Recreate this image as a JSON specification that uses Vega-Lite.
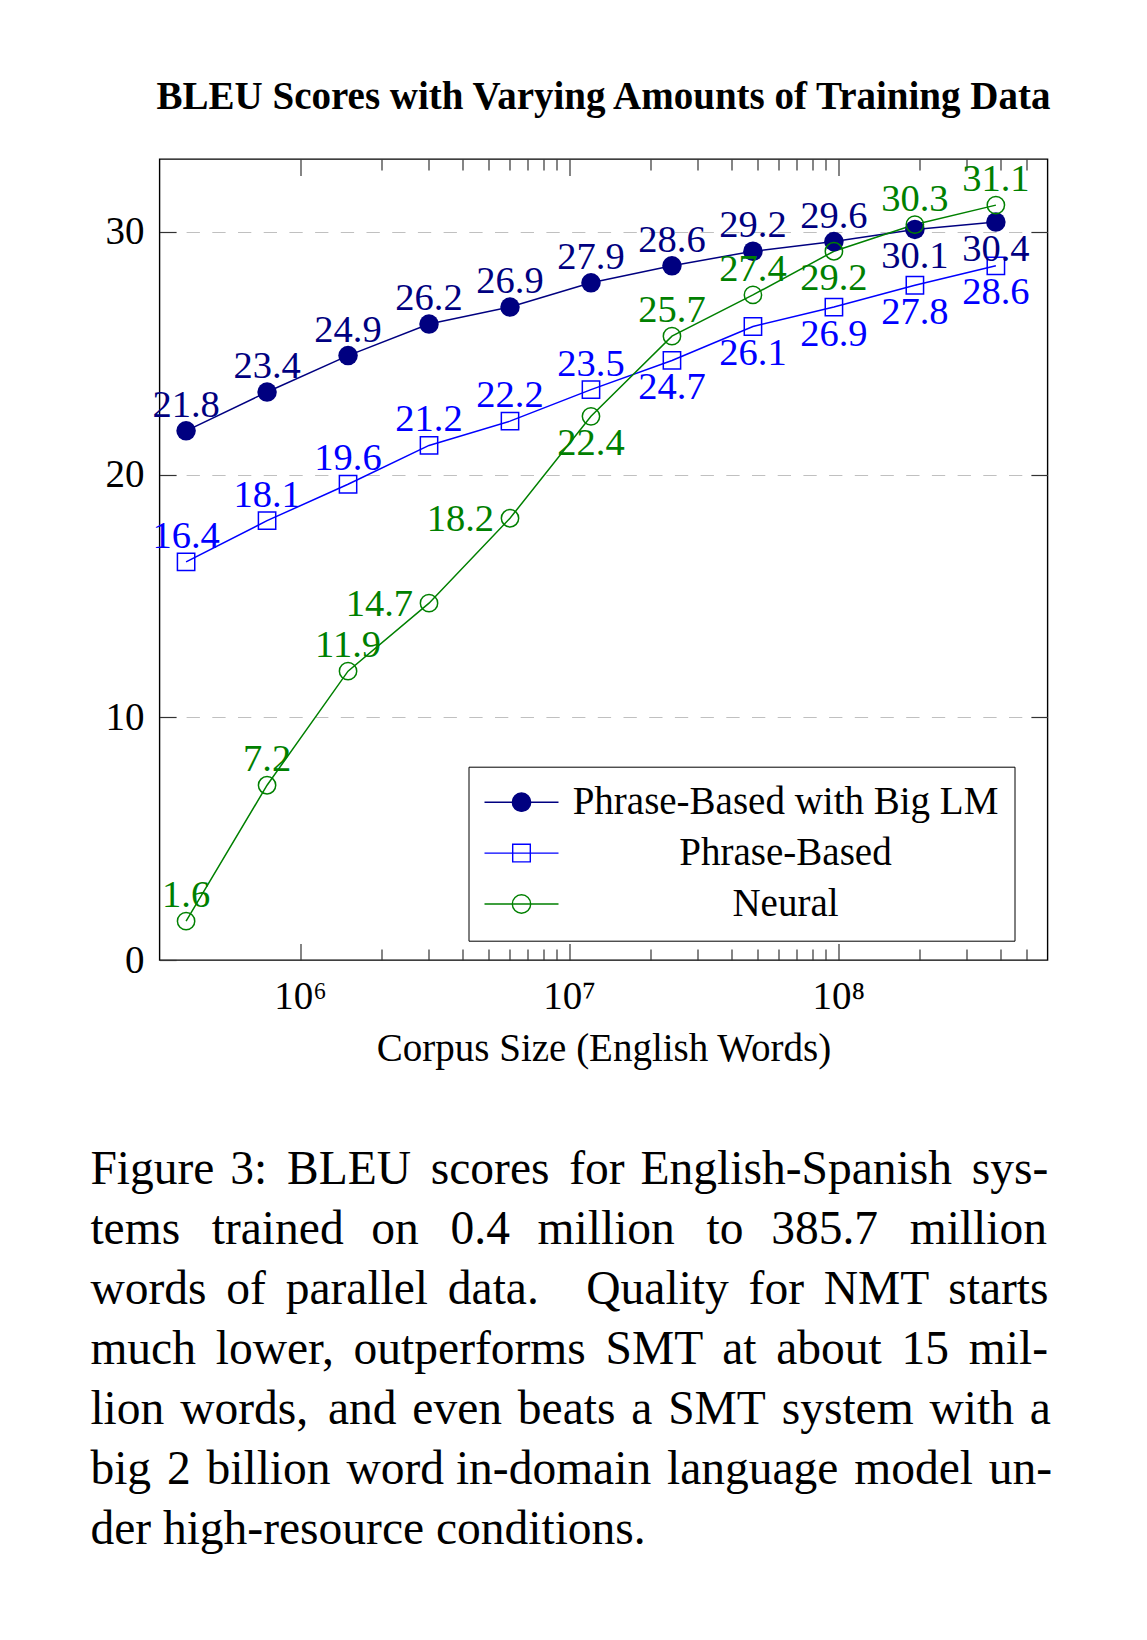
{
  "$schema": "https://vega.github.io/schema/vega-lite/v6.json",
  "background": "white",
  "padding": {"left": 89.5, "top": 77, "right": 5, "bottom": 5},
  "config": {
    "font": "Liberation Serif",
    "view": {"stroke": "black", "strokeWidth": 1.4},
    "axis": {"labelFont": "Liberation Serif", "titleFont": "Liberation Serif", "labelColor": "black", "titleColor": "black", "titleFontWeight": "normal", "tickColor": "#333333", "tickWidth": 1.2},
    "legend": {
      "labelFont": "Liberation Serif", "labelFontSize": 39, "labelColor": "black",
      "labelAlign": "center", "labelBaseline": "middle", "labelOffset": 262, "labelLimit": 800,
      "symbolSize": 1369, "symbolStrokeWidth": 1.4, "symbolOpacity": 1, "rowPadding": 10.9, "padding": 16,
      "strokeColor": "black", "fillColor": "white", "cornerRadius": 0
    },
    "text": {"font": "Liberation Serif"}
  },
  "title": {
    "text": [
      "Figure\u20043:\u0020\u2006BLEU\u0020\u2006scores\u0020\u2006for\u2004English-Spanish\u0020\u2006sys-",
      "tems\u2002\u2006trained\u0020\u2004on\u2002\u20060.4\u0020\u2004million\u2002\u2006to\u0020\u2004385.7\u2002\u2006million",
      "words\u0020\u2006of\u0020\u2006parallel\u0020\u2006data.\u2002\u2002Quality\u0020\u2006for\u0020\u2006NMT\u0020\u2006starts",
      "much\u0020\u2006lower,\u0020\u2006outperforms\u0020\u2006SMT\u0020\u2006at\u0020\u2006about\u0020\u200615\u0020\u2006mil-",
      "lion\u2004words,\u0020\u2006and\u2004even\u2004beats\u2004a\u2004SMT\u2004system\u2004with\u2004a",
      "big\u20042\u2004billion\u2004word in-domain\u2004language\u2004model\u2004un-",
      "der high-resource conditions."
    ],
    "orient": "bottom", "anchor": "start", "frame": "bounds",
    "font": "Liberation Serif", "fontSize": 47.5, "fontWeight": "normal", "color": "black",
    "lineHeight": 60, "baseline": "top", "offset": 77, "dx": -14
  },
  "datasets": {
    "bleu": [
      {"series": "Phrase-Based with Big LM", "words": 376660, "bleu": 21.8},
      {"series": "Phrase-Based with Big LM", "words": 753320, "bleu": 23.4},
      {"series": "Phrase-Based with Big LM", "words": 1506641, "bleu": 24.9},
      {"series": "Phrase-Based with Big LM", "words": 3013281, "bleu": 26.2},
      {"series": "Phrase-Based with Big LM", "words": 6026563, "bleu": 26.9},
      {"series": "Phrase-Based with Big LM", "words": 12053125, "bleu": 27.9},
      {"series": "Phrase-Based with Big LM", "words": 24106250, "bleu": 28.6},
      {"series": "Phrase-Based with Big LM", "words": 48212500, "bleu": 29.2},
      {"series": "Phrase-Based with Big LM", "words": 96425000, "bleu": 29.6},
      {"series": "Phrase-Based with Big LM", "words": 192850000, "bleu": 30.1},
      {"series": "Phrase-Based with Big LM", "words": 385700000, "bleu": 30.4},
      {"series": "Phrase-Based", "words": 376660, "bleu": 16.4},
      {"series": "Phrase-Based", "words": 753320, "bleu": 18.1},
      {"series": "Phrase-Based", "words": 1506641, "bleu": 19.6},
      {"series": "Phrase-Based", "words": 3013281, "bleu": 21.2},
      {"series": "Phrase-Based", "words": 6026563, "bleu": 22.2},
      {"series": "Phrase-Based", "words": 12053125, "bleu": 23.5},
      {"series": "Phrase-Based", "words": 24106250, "bleu": 24.7},
      {"series": "Phrase-Based", "words": 48212500, "bleu": 26.1},
      {"series": "Phrase-Based", "words": 96425000, "bleu": 26.9},
      {"series": "Phrase-Based", "words": 192850000, "bleu": 27.8},
      {"series": "Phrase-Based", "words": 385700000, "bleu": 28.6},
      {"series": "Neural", "words": 376660, "bleu": 1.6},
      {"series": "Neural", "words": 753320, "bleu": 7.2},
      {"series": "Neural", "words": 1506641, "bleu": 11.9},
      {"series": "Neural", "words": 3013281, "bleu": 14.7},
      {"series": "Neural", "words": 6026563, "bleu": 18.2},
      {"series": "Neural", "words": 12053125, "bleu": 22.4},
      {"series": "Neural", "words": 24106250, "bleu": 25.7},
      {"series": "Neural", "words": 48212500, "bleu": 27.4},
      {"series": "Neural", "words": 96425000, "bleu": 29.2},
      {"series": "Neural", "words": 192850000, "bleu": 30.3},
      {"series": "Neural", "words": 385700000, "bleu": 31.1}
    ]
  },
  "vconcat": [
    {
      "width": 888,
      "height": 801,
      "title": {
        "text": "BLEU Scores with Varying Amounts of Training Data",
        "font": "Liberation Serif", "fontSize": 39, "fontWeight": "bold", "color": "black",
        "anchor": "middle", "baseline": "alphabetic", "offset": 10
      },
      "data": {"name": "bleu"},
      "layer": [
        {
          "mark": {"type": "line", "strokeWidth": 1.5},
          "encoding": {
            "x": {"field": "words", "type": "quantitative",
              "scale": {"type": "log", "domain": [300000, 600000000], "nice": false, "zero": false},
              "axis": {"orient": "bottom", "values": [1000000, 10000000, 100000000],
                "labelExpr": "datum.value < 5000000 ? '10⁶' : datum.value < 50000000 ? '10⁷' : '10⁸'",
                "tickSize": -16.6, "domain": false, "grid": false, "labelFontSize": 39, "labelPadding": 34,
                "labelFlush": false, "labelOverlap": false,
                "title": "Corpus Size (English Words)", "titleFontSize": 39, "titlePadding": 13}},
            "y": {"field": "bleu", "type": "quantitative",
              "scale": {"domain": [0, 33], "nice": false, "zero": false},
              "axis": {"orient": "left", "values": [0, 10, 20, 30], "tickSize": -16.6, "domain": false,
                "grid": false, "labelFontSize": 39, "labelPadding": 32, "labelFlush": false, "title": null}},
            "color": {"field": "series", "type": "nominal",
              "scale": {"range": ["#008000", "#0000ff", "#000080"]},
              "legend": null}
          }
        },
        {
          "transform": [{"filter": "datum.series == 'Phrase-Based with Big LM'"}],
          "mark": {"type": "point", "shape": "circle", "filled": true, "size": 380, "color": "#000080", "opacity": 1},
          "encoding": {
            "x": {"field": "words", "type": "quantitative",
              "axis": {"orient": "bottom", "values": [2000000, 3000000, 4000000, 5000000, 6000000, 7000000, 8000000, 9000000, 20000000, 30000000, 40000000, 50000000, 60000000, 70000000, 80000000, 90000000, 200000000, 300000000, 400000000, 500000000],
                "labels": false, "tickSize": -11, "domain": false, "grid": false, "title": null}},
            "y": {"field": "bleu", "type": "quantitative",
              "axis": {"orient": "right", "values": [10, 20, 30], "labels": false, "tickSize": -16.6, "domain": false,
                "grid": true, "gridColor": "#c0c0c0", "gridDash": [13.3, 12.4], "gridWidth": 1.2, "title": null}}
          }
        },
        {
          "transform": [{"filter": "datum.series == 'Phrase-Based'"}],
          "mark": {"type": "point", "shape": "square", "filled": false, "size": 300, "color": "#0000ff", "strokeWidth": 1.5, "opacity": 1},
          "encoding": {
            "x": {"field": "words", "type": "quantitative",
              "axis": {"orient": "top", "values": [1000000, 10000000, 100000000], "labels": false, "tickSize": -16.6, "domain": false, "grid": false, "title": null}},
            "y": {"field": "bleu", "type": "quantitative", "axis": null}
          }
        },
        {
          "transform": [{"filter": "datum.series == 'Neural'"}],
          "mark": {"type": "point", "shape": "circle", "filled": false, "size": 300, "color": "#008000", "strokeWidth": 1.5, "opacity": 1},
          "encoding": {
            "x": {"field": "words", "type": "quantitative",
              "axis": {"orient": "top", "values": [2000000, 3000000, 4000000, 5000000, 6000000, 7000000, 8000000, 9000000, 20000000, 30000000, 40000000, 50000000, 60000000, 70000000, 80000000, 90000000, 200000000, 300000000, 400000000, 500000000],
                "labels": false, "tickSize": -11, "domain": false, "grid": false, "title": null}},
            "y": {"field": "bleu", "type": "quantitative", "axis": null}
          }
        },
        {
          "transform": [{"filter": "(datum.series == 'Phrase-Based with Big LM' && datum.words < 150000000) || (datum.series == 'Phrase-Based' && datum.words < 20000000) || (datum.series == 'Neural' && (datum.words < 2000000 || (datum.words > 20000000 && datum.words < 60000000) || datum.words > 150000000))"}],
          "mark": {"type": "text", "fontSize": 38.5, "align": "center", "baseline": "alphabetic", "dy": -14},
          "encoding": {
            "x": {"field": "words", "type": "quantitative", "axis": null},
            "y": {"field": "bleu", "type": "quantitative", "axis": null},
            "text": {"field": "bleu", "type": "quantitative", "format": ".1f"},
            "color": {"field": "series", "type": "nominal", "legend": null}
          }
        },
        {
          "transform": [{"filter": "(datum.series == 'Phrase-Based with Big LM' && datum.words > 150000000) || (datum.series == 'Phrase-Based' && datum.words > 20000000) || (datum.series == 'Neural' && ((datum.words > 10000000 && datum.words < 20000000) || (datum.words > 60000000 && datum.words < 150000000)))"}],
          "mark": {"type": "text", "fontSize": 38.5, "align": "center", "baseline": "alphabetic", "dy": 38.5},
          "encoding": {
            "x": {"field": "words", "type": "quantitative", "axis": null},
            "y": {"field": "bleu", "type": "quantitative", "axis": null},
            "text": {"field": "bleu", "type": "quantitative", "format": ".1f"},
            "color": {"field": "series", "type": "nominal", "legend": null}
          }
        },
        {
          "transform": [{"filter": "datum.series == 'Neural' && datum.words > 2000000 && datum.words < 10000000"}],
          "mark": {"type": "text", "fontSize": 38.5, "align": "right", "baseline": "alphabetic", "dx": -16, "dy": 12.5},
          "encoding": {
            "x": {"field": "words", "type": "quantitative", "axis": null},
            "y": {"field": "bleu", "type": "quantitative", "axis": null},
            "text": {"field": "bleu", "type": "quantitative", "format": ".1f"},
            "color": {"field": "series", "type": "nominal", "legend": null}
          }
        },
        {
          "mark": {"type": "point", "filled": true, "strokeWidth": 1.4, "opacity": 0},
          "encoding": {
            "x": {"field": "words", "type": "quantitative", "axis": null},
            "y": {"field": "bleu", "type": "quantitative", "axis": null},
            "shape": {"field": "series", "type": "nominal",
              "scale": {"domain": ["Phrase-Based with Big LM", "Phrase-Based", "Neural"],
                "range": [
                  "M-1.054,0H2.946M1.443,0A0.497,0.497,0,1,1,0.449,0A0.497,0.497,0,1,1,1.443,0Z",
                  "M-1.054,0H2.946M0.470,-0.476H1.422V0.476H0.470Z",
                  "M-1.054,0H2.946M1.443,0A0.497,0.497,0,1,1,0.449,0A0.497,0.497,0,1,1,1.443,0Z"
                ]},
              "legend": {"orient": "none", "legendX": 309, "legendY": 607.7, "title": null, "symbolOpacity": 1}},
            "stroke": {"field": "series", "type": "nominal",
              "scale": {"domain": ["Phrase-Based with Big LM", "Phrase-Based", "Neural"], "range": ["#000080", "#0000ff", "#008000"]},
              "legend": {"orient": "none", "legendX": 309, "legendY": 607.7, "title": null, "symbolOpacity": 1}},
            "fill": {"field": "series", "type": "nominal",
              "scale": {"domain": ["Phrase-Based with Big LM", "Phrase-Based", "Neural"], "range": ["#000080", "transparent", "transparent"]},
              "legend": {"orient": "none", "legendX": 309, "legendY": 607.7, "title": null, "symbolOpacity": 1}}
          }
        }
      ],
      "resolve": {"axis": {"x": "independent", "y": "independent"}}
    }
  ]
}
